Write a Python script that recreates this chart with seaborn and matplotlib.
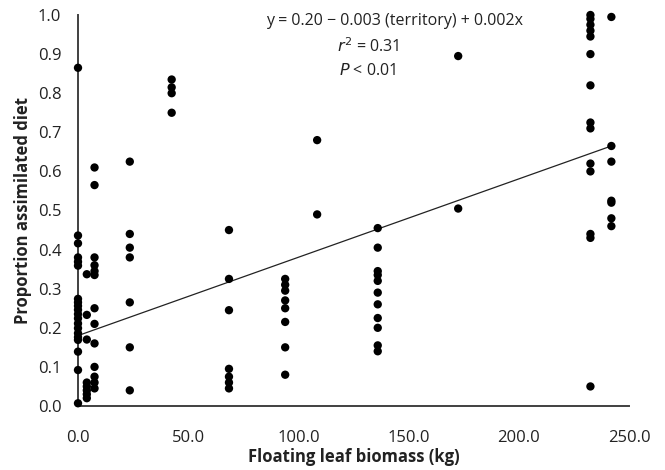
import numpy as np
import pandas as pd
import matplotlib
matplotlib.use('Agg')
import matplotlib.pyplot as plt
from matplotlib.ticker import FormatStrFormatter
import seaborn as sns

# biomass (kg) of each territory and the diet proportions measured there
biomass = [0.0, 4.0, 7.5, 23.5, 42.5, 68.5, 94.0, 108.5, 136.0, 172.5, 232.5, 242.0]
diet = [
    [0.865, 0.436, 0.416, 0.380, 0.369, 0.359, 0.274, 0.265, 0.256, 0.246,
     0.235, 0.224, 0.211, 0.199, 0.186, 0.176, 0.169, 0.139, 0.092, 0.007],
    [0.337, 0.233, 0.17, 0.06, 0.05, 0.04, 0.03, 0.02],
    [0.61, 0.565, 0.38, 0.36, 0.345, 0.335, 0.25, 0.21, 0.16, 0.10, 0.075, 0.06, 0.045],
    [0.625, 0.44, 0.405, 0.38, 0.265, 0.15, 0.04],
    [0.835, 0.815, 0.80, 0.75],
    [0.45, 0.325, 0.245, 0.095, 0.075, 0.06, 0.045],
    [0.325, 0.31, 0.295, 0.27, 0.25, 0.215, 0.15, 0.08],
    [0.68, 0.49],
    [0.455, 0.405, 0.345, 0.335, 0.32, 0.29, 0.26, 0.225, 0.20, 0.155, 0.14],
    [0.895, 0.505],
    [1.0, 0.99, 0.975, 0.96, 0.945, 0.90, 0.82, 0.725, 0.71, 0.62, 0.60, 0.44, 0.43, 0.05],
    [0.995, 0.665, 0.625, 0.525, 0.52, 0.48, 0.46],
]
# fitted line ends
fit_x = [0.0, 242.0]
fit_y = [0.18, 0.665]

rows = []
for b, vals in zip(biomass, diet):
    for v in vals:
        rows.append({'biomass': b, 'diet': v})
df = pd.DataFrame(rows)

sns.set_style('white')
plt.rcParams['font.family'] = ['Open Sans', 'DejaVu Sans']

fig = plt.figure(figsize=(6.65, 4.7), dpi=100)
ax = fig.add_axes([78/665, 64/470, 551/665, 391/470])

sns.scatterplot(data=df, x='biomass', y='diet', color='black', s=36,
                edgecolor='none', ax=ax, clip_on=False, zorder=3)
sns.lineplot(x=fit_x, y=fit_y, color='#222222', lw=0.9, ax=ax, zorder=2)

ax.set_xlim(0, 250)
ax.set_ylim(0, 1.0)
ax.set_xticks(np.arange(0, 251, 50))
ax.set_yticks(np.arange(0, 1.01, 0.1))
ax.xaxis.set_major_formatter(FormatStrFormatter('%.1f'))
ax.yaxis.set_major_formatter(FormatStrFormatter('%.1f'))

for s in ['top', 'right']:
    ax.spines[s].set_visible(False)
for s in ['left', 'bottom']:
    ax.spines[s].set_color('#404040')
    ax.spines[s].set_linewidth(1.4)
ax.tick_params(direction='out', length=4, width=1.2, color='#404040',
               labelsize=12, labelcolor='#222222')
ax.tick_params(axis='x', pad=13)
ax.tick_params(axis='y', pad=8)

ax.set_xlabel('Floating leaf biomass (kg)', fontsize=12, fontweight='bold', color='#222222', labelpad=2)
ax.set_ylabel('Proportion assimilated diet', fontsize=12, fontweight='bold', color='#222222', labelpad=4)

ax.text(0.575, 0.985, 'y = 0.20 \u2212 0.003 (territory) + 0.002x', transform=ax.transAxes,
        ha='center', va='center', fontsize=11.5, color='#222222')
ax.text(0.526, 0.92, '$\\mathit{r}^2$ = 0.31', transform=ax.transAxes,
        ha='center', va='center', fontsize=11.5, color='#222222')
ax.text(0.526, 0.857, '$\\mathit{P}$ < 0.01', transform=ax.transAxes,
        ha='center', va='center', fontsize=11.5, color='#222222')

fig.savefig('out.png', dpi=100)
